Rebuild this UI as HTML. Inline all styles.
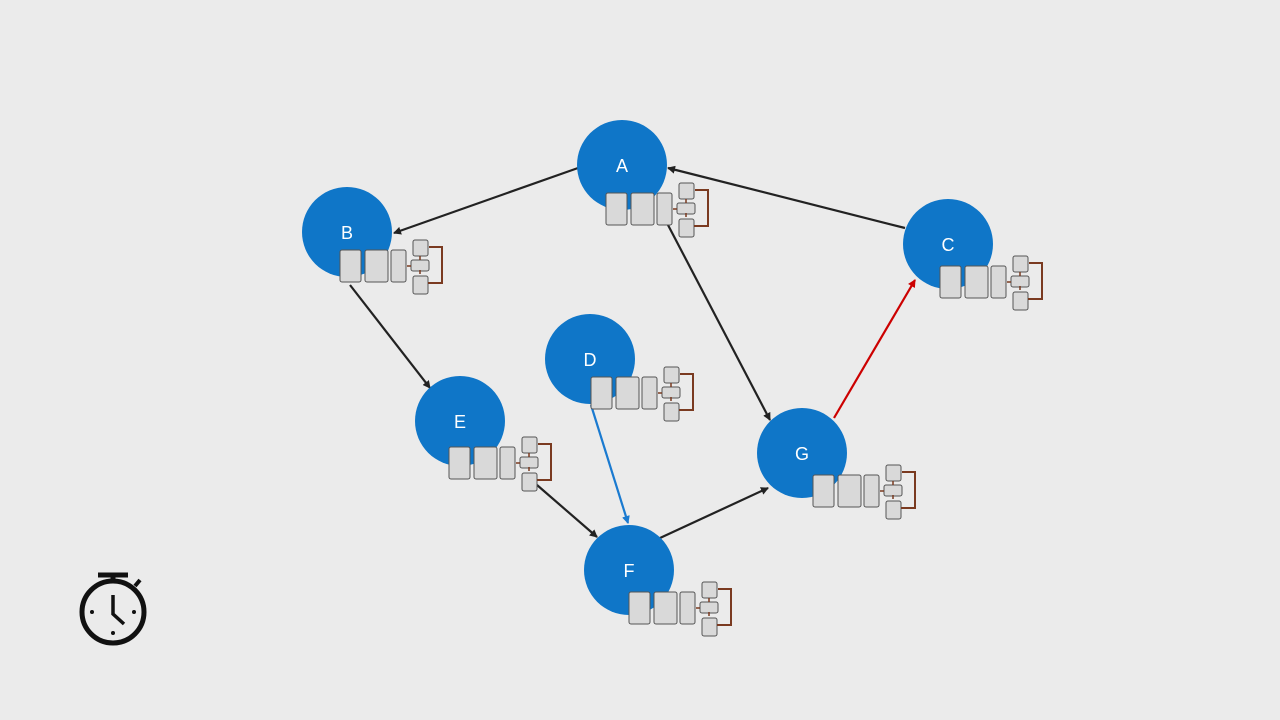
<!DOCTYPE html>
<html><head><style>
body{margin:0;background:#ebebeb;}
svg{display:block}
text{font-family:"Liberation Sans",sans-serif;}
</style></head><body>
<svg width="1280" height="720" viewBox="0 0 1280 720">
<defs>
<marker id="k" markerWidth="8" markerHeight="8" refX="7" refY="4" orient="auto" markerUnits="userSpaceOnUse"><path d="M0,0 L8,4 L0,8 z" fill="#222"/></marker>
<marker id="b" markerWidth="8" markerHeight="8" refX="7" refY="4" orient="auto" markerUnits="userSpaceOnUse"><path d="M0,0 L8,4 L0,8 z" fill="#1a7ad0"/></marker>
<marker id="r" markerWidth="8" markerHeight="8" refX="7" refY="4" orient="auto" markerUnits="userSpaceOnUse"><path d="M0,0 L8,4 L0,8 z" fill="#c00"/></marker>
<g id="w">
<rect x="0" y="0" width="21" height="32" rx="2" fill="#d9d9d9" stroke="#555"/>
<rect x="25" y="0" width="23" height="32" rx="2" fill="#d9d9d9" stroke="#555"/>
<rect x="51" y="0" width="15" height="32" rx="2" fill="#d9d9d9" stroke="#555"/>
<rect x="73" y="-10" width="15" height="16" rx="2" fill="#d9d9d9" stroke="#555"/>
<rect x="71" y="10" width="18" height="11" rx="2" fill="#d9d9d9" stroke="#555"/>
<rect x="73" y="26" width="15" height="18" rx="2" fill="#d9d9d9" stroke="#555"/>
<path d="M88,33 H102 V-3 H89" fill="none" stroke="#7a3a20" stroke-width="2"/>
<path d="M80,24 v-4 M80,10 v-4 M67,16 h4" stroke="#7a3a20" stroke-width="1.5"/>
</g>
</defs>
<g stroke-width="2.2" fill="none">
<line x1="578" y1="168" x2="394" y2="233" stroke="#222" marker-end="url(#k)"/>
<line x1="905" y1="228" x2="668" y2="168" stroke="#222" marker-end="url(#k)"/>
<line x1="668" y1="225" x2="770" y2="420" stroke="#222" marker-end="url(#k)"/>
<line x1="350" y1="285" x2="430" y2="388" stroke="#222" marker-end="url(#k)"/>
<line x1="537" y1="485" x2="597" y2="537" stroke="#222" marker-end="url(#k)"/>
<line x1="591" y1="405" x2="628" y2="523" stroke="#1a7ad0" marker-end="url(#b)"/>
<line x1="660" y1="538" x2="768" y2="488" stroke="#222" marker-end="url(#k)"/>
<line x1="834" y1="418" x2="915" y2="280" stroke="#c00" marker-end="url(#r)"/>
</g>
<g fill="#0f76c8">
<circle cx="622" cy="165" r="45"/><circle cx="347" cy="232" r="45"/><circle cx="948" cy="244" r="45"/>
<circle cx="590" cy="359" r="45"/><circle cx="460" cy="421" r="45"/><circle cx="629" cy="570" r="45"/><circle cx="802" cy="453" r="45"/>
</g>
<g fill="#fff" font-size="18" text-anchor="middle">
<text x="622" y="172">A</text><text x="347" y="239">B</text><text x="948" y="251">C</text>
<text x="590" y="366">D</text><text x="460" y="428">E</text><text x="629" y="577">F</text><text x="802" y="460">G</text>
</g>
<use href="#w" x="606" y="193"/><use href="#w" x="340" y="250"/><use href="#w" x="940" y="266"/>
<use href="#w" x="591" y="377"/><use href="#w" x="449" y="447"/><use href="#w" x="629" y="592"/><use href="#w" x="813" y="475"/>
<g stroke="#111" fill="none" stroke-width="5">
<circle cx="113" cy="612" r="31"/>
<line x1="98" y1="575" x2="128" y2="575"/><line x1="113" y1="575" x2="113" y2="581"/>
<line x1="135" y1="586" x2="140" y2="580" stroke-width="4"/>
<path d="M113,595 V614 L124,624" stroke-width="3.5"/>
</g>
<g fill="#111"><circle cx="92" cy="612" r="2"/><circle cx="134" cy="612" r="2"/><circle cx="113" cy="633" r="2"/></g>
</svg>
</body></html>
